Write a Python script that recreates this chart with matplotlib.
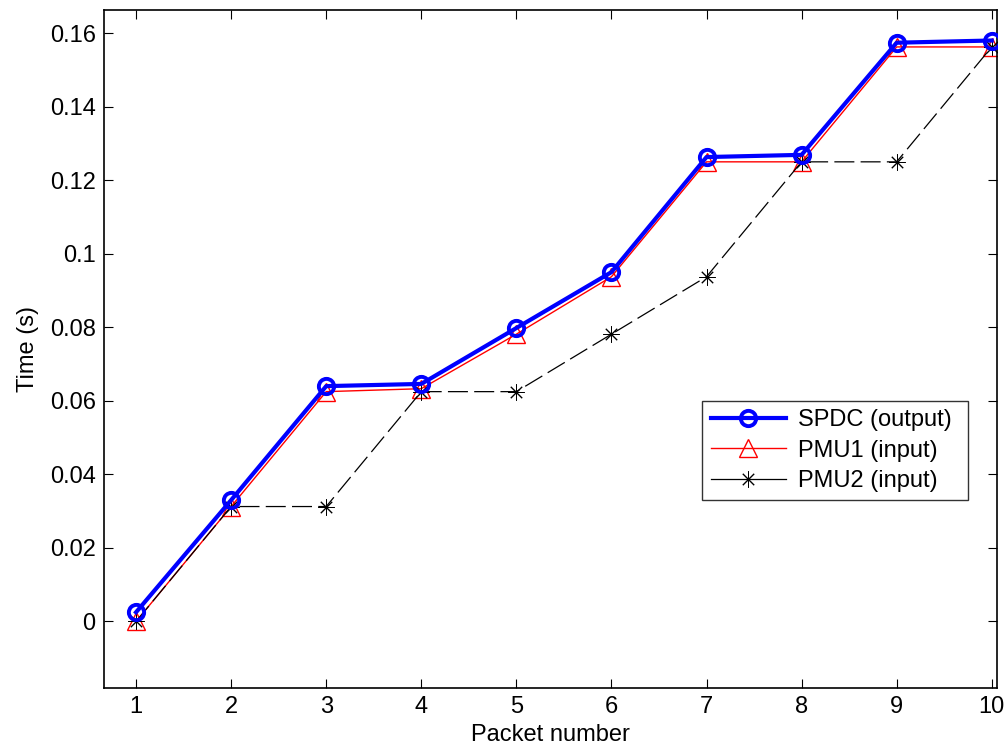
import matplotlib
matplotlib.use('Agg')
from matplotlib import pyplot as plt

# data
packets = [1, 2, 3, 4, 5, 6, 7, 8, 9, 10]
spdc = [0.0025, 0.0330, 0.0640, 0.0646, 0.0798, 0.0950, 0.1263, 0.1269, 0.1574, 0.1580]
pmu1 = [0.0, 0.03125, 0.0625, 0.0633, 0.078125, 0.09375, 0.125, 0.125, 0.15625, 0.15625]
pmu2 = [0.0, 0.03125, 0.03125, 0.0625, 0.0625, 0.078125, 0.09375, 0.125, 0.125, 0.15625]

xticks = list(range(1, 11))
yticks = [0, 0.02, 0.04, 0.06, 0.08, 0.1, 0.12, 0.14, 0.16]
ytick_labels = ['0', '0.02', '0.04', '0.06', '0.08', '0.1', '0.12', '0.14', '0.16']

plt.rcParams['font.family'] = ['Liberation Sans', 'DejaVu Sans']
plt.rcParams['font.size'] = 17

fig = plt.figure(figsize=(10.06, 7.51), dpi=100)
ax = fig.add_axes([0.1034, 0.0839, 0.8877, 0.9028])

ax.plot(packets, spdc, color='#0000ff', lw=3, marker='o', ms=11, mfc='none',
        mew=2.8, label='SPDC (output)', zorder=3)
ax.plot(packets, pmu1, color='#ff0000', lw=1, marker='^', ms=13, mfc='none',
        mew=1, label='PMU1 (input)', zorder=2)
ax.plot(packets, pmu2, color='black', lw=0.9, marker=(8, 2, 0), ms=11.5,
        mew=0.7, dashes=(16, 5), label='PMU2 (input)', zorder=2)

ax.set_xlim(0.663, 10.056)
ax.set_ylim(-0.0181, 0.1663)
ax.set_xticks(xticks)
ax.set_yticks(yticks)
ax.set_yticklabels(ytick_labels)
ax.tick_params(direction='in', length=6.5, width=0.8, top=True, right=True,
               labelsize=17, pad=6)
for s in ax.spines.values():
    s.set_linewidth(1.2)

ax.set_xlabel('Packet number', fontsize=17, labelpad=4)
ax.set_ylabel('Time (s)', fontsize=17, labelpad=8)

leg = ax.legend(loc='lower left', bbox_to_anchor=(0.670, 0.277, 0.2975, 0.1655),
                mode='expand', fontsize=17, frameon=True, fancybox=False,
                edgecolor='black', borderpad=0.35, handlelength=3.2,
                handletextpad=0.5, labelspacing=0.35, borderaxespad=0)
leg.get_frame().set_linewidth(1.0)
# legend sample for PMU2 is drawn solid in the reference
leg.get_lines()[2].set_dashes((None, None))
leg.get_lines()[2].set_linestyle('-')

fig.savefig('out.png', dpi=100)
